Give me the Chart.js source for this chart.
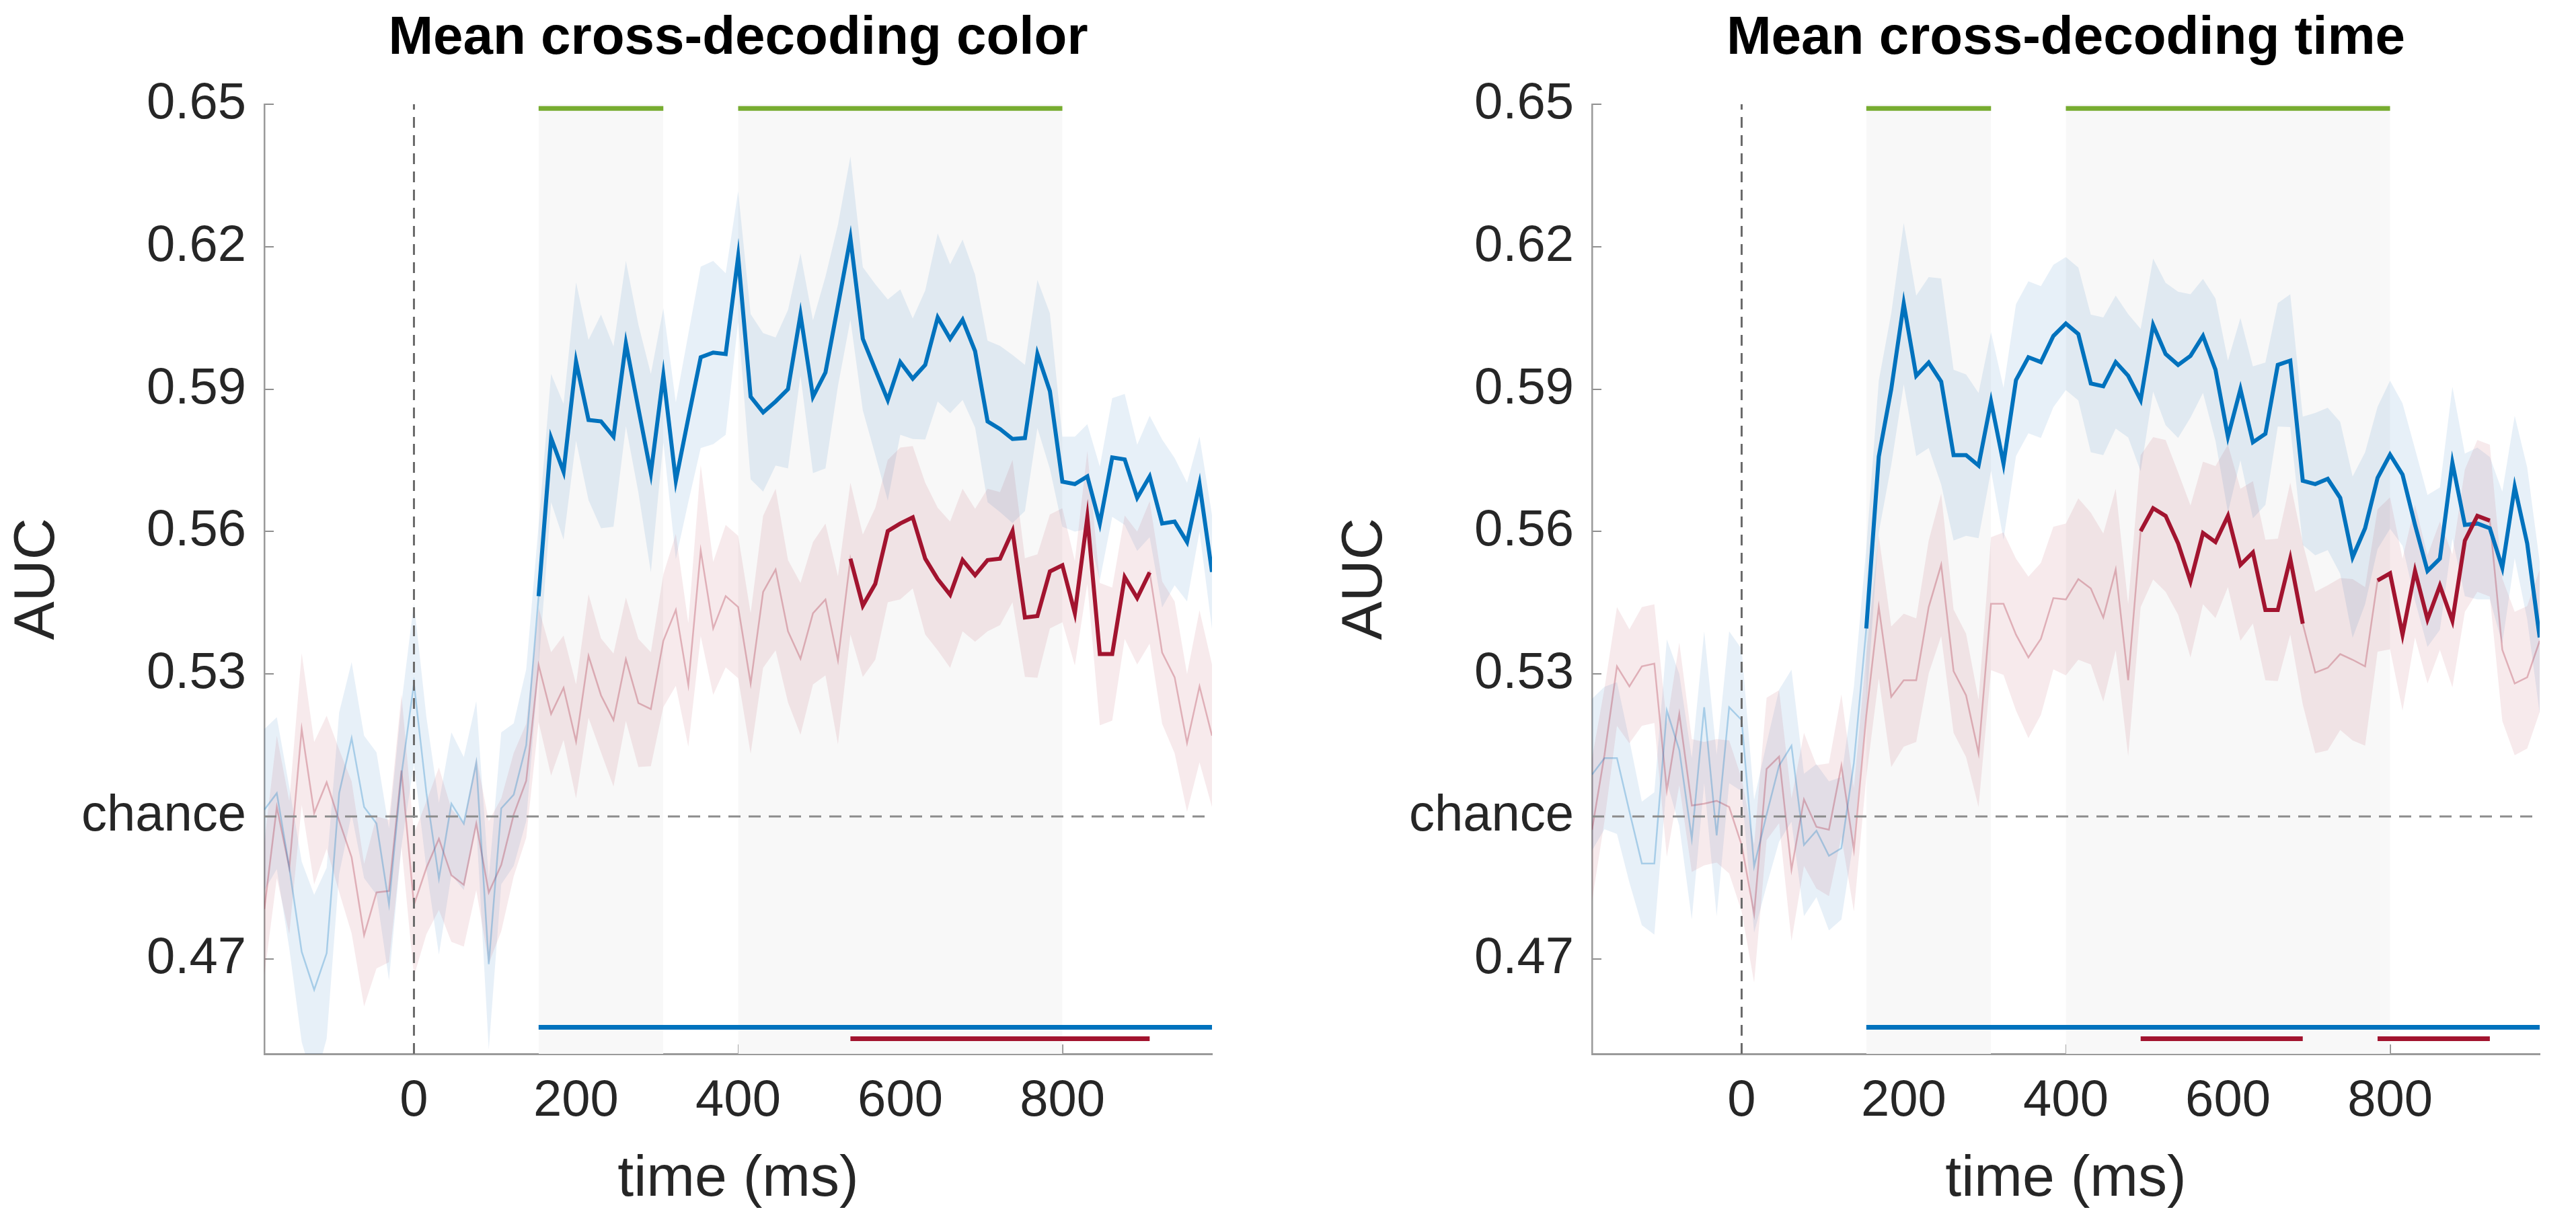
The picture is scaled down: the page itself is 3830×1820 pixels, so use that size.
<!DOCTYPE html>
<html><head><meta charset="utf-8">
<script src="https://cdn.jsdelivr.net/npm/chart.js@4.4.1/dist/chart.umd.min.js"></script>
<style>
html,body{margin:0;padding:0;background:#fff;width:3830px;height:1820px;overflow:hidden}
canvas{position:absolute;top:0}
#c1{left:0}
#c2{left:1974px}
</style></head>
<body>
<canvas id="c1" width="1856" height="1820"></canvas>
<canvas id="c2" width="1856" height="1820"></canvas>
<script>
// time axis (ms), 65 Hz sampling
const times = [-184.6,-169.2,-153.8,-138.5,-123.1,-107.7,-92.3,-76.9,-61.5,-46.2,-30.8,-15.4,0,15.4,30.8,46.2,61.5,76.9,92.3,107.7,123.1,138.5,153.8,169.2,184.6,200,215.4,230.8,246.2,261.5,276.9,292.3,307.7,323.1,338.5,353.8,369.2,384.6,400,415.4,430.8,446.2,461.5,476.9,492.3,507.7,523.1,538.5,553.8,569.2,584.6,600,615.4,630.8,646.2,661.5,676.9,692.3,707.7,723.1,738.5,753.8,769.2,784.6,800,815.4,830.8,846.2,861.5,876.9,892.3,907.7,923.1,938.5,953.8,969.2,984.6];

// Panel 1: Mean cross-decoding color
const colorBlueMean = [0.5014,0.5049,0.4892,0.4715,0.4635,0.4712,0.5049,0.5165,0.502,0.4985,0.4815,0.5088,0.528,0.5049,0.4869,0.5027,0.4985,0.5113,0.4689,0.5017,0.5046,0.515,0.5464,0.5797,0.5726,0.5958,0.5835,0.5832,0.58,0.5996,0.5859,0.5723,0.5929,0.5707,0.5839,0.5967,0.5977,0.5974,0.6179,0.5884,0.5851,0.5874,0.59,0.6057,0.5884,0.5935,0.6076,0.6218,0.6006,0.5941,0.5877,0.5957,0.5922,0.5951,0.6051,0.6006,0.6046,0.598,0.5832,0.5816,0.5795,0.5797,0.5974,0.5896,0.5705,0.57,0.5716,0.5617,0.5756,0.5752,0.5671,0.5716,0.5617,0.5621,0.5578,0.57,0.5515];
const colorBlueSE = [0.017,0.016,0.017,0.019,0.02,0.018,0.017,0.016,0.015,0.015,0.016,0.015,0.017,0.016,0.016,0.015,0.014,0.013,0.018,0.016,0.015,0.016,0.015,0.0135,0.0143,0.0167,0.0169,0.0225,0.019,0.0174,0.0177,0.0209,0.0141,0.0165,0.0177,0.0191,0.0193,0.017,0.0138,0.0174,0.0167,0.0135,0.0167,0.0129,0.0161,0.0202,0.017,0.0172,0.0151,0.018,0.0212,0.0153,0.0127,0.0157,0.0177,0.0157,0.0169,0.0161,0.017,0.0175,0.0177,0.0154,0.0156,0.0164,0.0095,0.01,0.011,0.012,0.0125,0.0138,0.0112,0.0128,0.0177,0.0134,0.0125,0.01,0.012];
const colorRedMean = [0.4805,0.502,0.4892,0.5184,0.5007,0.5072,0.4991,0.4914,0.475,0.484,0.4843,0.5097,0.4814,0.4892,0.4953,0.4876,0.4856,0.4985,0.484,0.4898,0.5004,0.5075,0.5319,0.5216,0.5271,0.5158,0.5338,0.5255,0.5203,0.5331,0.5239,0.5226,0.537,0.5435,0.5277,0.556,0.5396,0.5464,0.5441,0.528,0.5473,0.552,0.539,0.5332,0.5428,0.5457,0.5329,0.5543,0.5444,0.549,0.5601,0.5617,0.563,0.5543,0.55,0.5467,0.554,0.5508,0.554,0.5543,0.5601,0.5419,0.5422,0.5516,0.5529,0.5428,0.563,0.5342,0.5342,0.5504,0.546,0.5514,0.5345,0.5293,0.5155,0.5274,0.517];
const colorRedSE = [0.014,0.015,0.014,0.016,0.015,0.014,0.015,0.016,0.015,0.016,0.015,0.016,0.015,0.014,0.015,0.014,0.013,0.014,0.015,0.014,0.013,0.012,0.012,0.013,0.011,0.012,0.013,0.012,0.014,0.013,0.0135,0.012,0.014,0.016,0.013,0.018,0.014,0.015,0.015,0.0148,0.016,0.017,0.015,0.016,0.015,0.016,0.0177,0.016,0.015,0.016,0.015,0.016,0.015,0.016,0.015,0.0154,0.015,0.014,0.015,0.014,0.015,0.0125,0.013,0.012,0.012,0.011,0.014,0.015,0.014,0.013,0.014,0.015,0.015,0.016,0.0145,0.016,0.015];
const colorBlueSig = [[153.8, 984.6]];
const colorRedSig = [[538.5, 907.7]];

// Panel 2: Mean cross-decoding time
const timeBlueMean = [0.5088,0.5123,0.5123,0.5011,0.4901,0.4901,0.5223,0.514,0.4953,0.523,0.496,0.523,0.5203,0.4895,0.5004,0.5107,0.5149,0.494,0.497,0.4917,0.4933,0.5113,0.5396,0.5758,0.59,0.608,0.5928,0.5956,0.5916,0.5761,0.5761,0.5739,0.5874,0.5743,0.5919,0.5967,0.5957,0.6012,0.6038,0.6016,0.5912,0.5906,0.5957,0.5928,0.5877,0.6035,0.5974,0.5951,0.597,0.6012,0.5941,0.58,0.59,0.5788,0.5806,0.5951,0.596,0.5707,0.57,0.5711,0.5671,0.5546,0.5607,0.5713,0.5762,0.572,0.5614,0.5517,0.5543,0.5745,0.5614,0.5617,0.5607,0.5524,0.5694,0.5575,0.5377];
const timeBlueSE = [0.016,0.015,0.016,0.015,0.013,0.015,0.015,0.016,0.017,0.016,0.017,0.016,0.015,0.014,0.015,0.016,0.016,0.015,0.014,0.0157,0.015,0.016,0.017,0.016,0.016,0.017,0.0169,0.018,0.0217,0.018,0.017,0.0153,0.0146,0.016,0.016,0.016,0.016,0.015,0.014,0.014,0.0145,0.0145,0.014,0.013,0.015,0.014,0.015,0.0154,0.013,0.012,0.015,0.016,0.015,0.016,0.015,0.013,0.014,0.0135,0.015,0.015,0.016,0.017,0.016,0.015,0.0156,0.015,0.016,0.016,0.015,0.016,0.015,0.016,0.015,0.016,0.015,0.016,0.016];
const timeRedMean = [0.4972,0.513,0.5316,0.5274,0.5316,0.5322,0.5055,0.5216,0.5023,0.5027,0.5033,0.502,0.494,0.4795,0.51,0.5126,0.4888,0.5036,0.4978,0.4972,0.5107,0.493,0.5213,0.5441,0.5252,0.5287,0.5287,0.5441,0.553,0.5306,0.5255,0.5133,0.5448,0.5448,0.5383,0.5335,0.5374,0.546,0.5457,0.55,0.548,0.5419,0.552,0.5287,0.5601,0.5649,0.5633,0.5575,0.5495,0.5597,0.5578,0.5633,0.553,0.5556,0.5435,0.5435,0.5543,0.5406,0.5303,0.5313,0.5342,0.533,0.5316,0.5497,0.5512,0.5383,0.5517,0.5415,0.5486,0.5412,0.5581,0.5633,0.5623,0.5351,0.528,0.5293,0.537];
const timeRedSE = [0.015,0.014,0.0125,0.012,0.0125,0.0125,0.014,0.015,0.014,0.013,0.013,0.014,0.014,0.0145,0.015,0.014,0.015,0.014,0.013,0.014,0.015,0.013,0.013,0.015,0.0148,0.014,0.013,0.014,0.015,0.013,0.013,0.0113,0.014,0.015,0.016,0.017,0.016,0.015,0.016,0.017,0.016,0.0177,0.017,0.016,0.016,0.015,0.016,0.015,0.016,0.015,0.016,0.015,0.016,0.015,0.0148,0.015,0.016,0.017,0.017,0.0174,0.016,0.017,0.0167,0.015,0.016,0.016,0.014,0.0135,0.0135,0.014,0.015,0.016,0.016,0.015,0.0151,0.015,0.015];
const timeBlueSig = [[153.8, 984.6]];
const timeRedSig = [[492.3, 692.3], [784.6, 923.1]];

// windows shared by both panels (green bars / gray shading)
const windows = [[153.8, 307.7], [400, 800]];

// axes
const xMin = -184.6, xMax = 984.6;
const xTicks = [0, 200, 400, 600, 800];
const yMin = 0.45, yMax = 0.65;
const yTicks = [0.47, 0.50, 0.53, 0.56, 0.59, 0.62, 0.65];
const yTickLabels = ['0.47', 'chance', '0.53', '0.56', '0.59', '0.62', '0.65'];
const chanceLevel = 0.5;
const greenBarY = 0.6491, blueBarY = 0.4556, redBarY = 0.4532;

const BLUE = '#0072BD', RED = '#A2142F', GREEN = '#77AC30';
const FONT = "'Liberation Sans', Arial, Helvetica, sans-serif";

function inRanges(t, ranges) { return ranges.some(([a, b]) => t >= a - 0.05 && t <= b + 0.05); }

function makePanel(id, titleText, bm, bse, rm, rse, bSig, rSig) {
  const pts = arr => times.map((t, i) => ({x: t, y: arr[i]}));
  const band = (m, s, sign) => times.map((t, i) => ({x: t, y: m[i] + sign * s[i]}));
  const sigPts = (arr, ranges) => times.map((t, i) => ({x: t, y: inRanges(t, ranges) ? arr[i] : null}));
  const barPts = (ranges, y) => ranges.flatMap(([a, b]) => [{x: a, y}, {x: b, y}, {x: b, y: null}]);
  const base = {pointRadius: 0, pointHoverRadius: 0, tension: 0, spanGaps: false};

  const datasets = [];
  windows.forEach(([a, b]) => {
    datasets.push({...base, data: [{x: a, y: yMax}, {x: b, y: yMax}], borderWidth: 0,
      borderColor: 'rgba(0,0,0,0)', backgroundColor: '#f8f8f8', fill: 'start', order: 10});
  });
  datasets.push({...base, data: band(bm, bse, 1), borderWidth: 0, borderColor: 'rgba(0,0,0,0)',
    backgroundColor: 'rgba(0,100,180,0.095)', fill: '+1', order: 8});
  datasets.push({...base, data: band(bm, bse, -1), borderWidth: 0, borderColor: 'rgba(0,0,0,0)', fill: false, order: 8});
  datasets.push({...base, data: band(rm, rse, 1), borderWidth: 0, borderColor: 'rgba(0,0,0,0)',
    backgroundColor: 'rgba(162,20,47,0.09)', fill: '+1', order: 7});
  datasets.push({...base, data: band(rm, rse, -1), borderWidth: 0, borderColor: 'rgba(0,0,0,0)', fill: false, order: 7});
  datasets.push({...base, data: pts(bm), borderColor: 'rgba(0,114,189,0.28)', borderWidth: 2.5, fill: false, order: 5});
  datasets.push({...base, data: pts(rm), borderColor: 'rgba(162,20,47,0.28)', borderWidth: 2.5, fill: false, order: 5});
  datasets.push({...base, data: [{x: xMin, y: chanceLevel}, {x: xMax, y: chanceLevel}], borderColor: '#8c8c8c',
    borderWidth: 3, borderDash: [18, 12], fill: false, order: 4});
  datasets.push({...base, data: [{x: 0, y: yMin}, {x: 0, y: yMax}], borderColor: '#6a6a6a',
    borderWidth: 3, borderDash: [16, 11], fill: false, order: 4});
  datasets.push({...base, data: sigPts(bm, bSig), borderColor: BLUE, borderWidth: 6, fill: false, order: 2});
  datasets.push({...base, data: sigPts(rm, rSig), borderColor: RED, borderWidth: 6, fill: false, order: 1});
  datasets.push({...base, data: barPts(windows, greenBarY), borderColor: GREEN, borderWidth: 7, borderCapStyle: 'butt', fill: false, order: 1});
  datasets.push({...base, data: barPts(bSig, blueBarY), borderColor: BLUE, borderWidth: 7, borderCapStyle: 'butt', fill: false, order: 1});
  datasets.push({...base, data: barPts(rSig, redBarY), borderColor: RED, borderWidth: 7, borderCapStyle: 'butt', fill: false, order: 1});

  return new Chart(document.getElementById(id), {
    type: 'line',
    data: {datasets},
    options: {
      responsive: false, animation: false, devicePixelRatio: 1,
      layout: {padding: {left: 0, right: 54, top: 0, bottom: 0}},
      plugins: {
        legend: {display: false}, tooltip: {enabled: false},
        title: {display: true, text: titleText, fullSize: false, color: '#000',
          font: {family: FONT, size: 80, weight: 'bold', lineHeight: 1.2}, padding: {top: 10, bottom: 49}}
      },
      scales: {
        x: {
          type: 'linear', min: xMin, max: xMax,
          afterBuildTicks: s => { s.ticks = xTicks.map(v => ({value: v})); },
          afterFit: s => { s.height = 253; },
          grid: {display: true, drawOnChartArea: false, drawTicks: true, tickLength: -14, color: '#8f8f8f', lineWidth: 2},
          border: {display: true, color: '#9a9a9a', width: 3},
          ticks: {color: '#262626', font: {family: FONT, size: 76, lineHeight: 1.2}, padding: 39, maxRotation: 0, autoSkip: false,
            callback: v => String(v)},
          title: {display: true, text: 'time (ms)', color: '#262626', font: {family: FONT, size: 86, lineHeight: 1.2}, padding: {top: 0, bottom: 14}}
        },
        y: {
          type: 'linear', min: yMin, max: yMax,
          afterBuildTicks: s => { s.ticks = yTicks.map(v => ({value: v})); },
          afterFit: s => { s.width = 393; },
          grid: {display: true, drawOnChartArea: false, drawTicks: true, tickLength: -14, color: '#8f8f8f', lineWidth: 2},
          border: {display: true, color: '#9a9a9a', width: 2.5},
          ticks: {color: '#262626', font: {family: FONT, size: 76, lineHeight: 1.2}, padding: 41, autoSkip: false,
            callback: (v, i) => yTickLabels[i]},
          title: {display: true, text: 'AUC', color: '#262626', font: {family: FONT, size: 86, lineHeight: 1.2}, padding: {top: 5, bottom: 0}}
        }
      }
    }
  });
}

makePanel('c1', 'Mean cross-decoding color', colorBlueMean, colorBlueSE, colorRedMean, colorRedSE, colorBlueSig, colorRedSig);
makePanel('c2', 'Mean cross-decoding time', timeBlueMean, timeBlueSE, timeRedMean, timeRedSE, timeBlueSig, timeRedSig);
</script>
</body></html>
